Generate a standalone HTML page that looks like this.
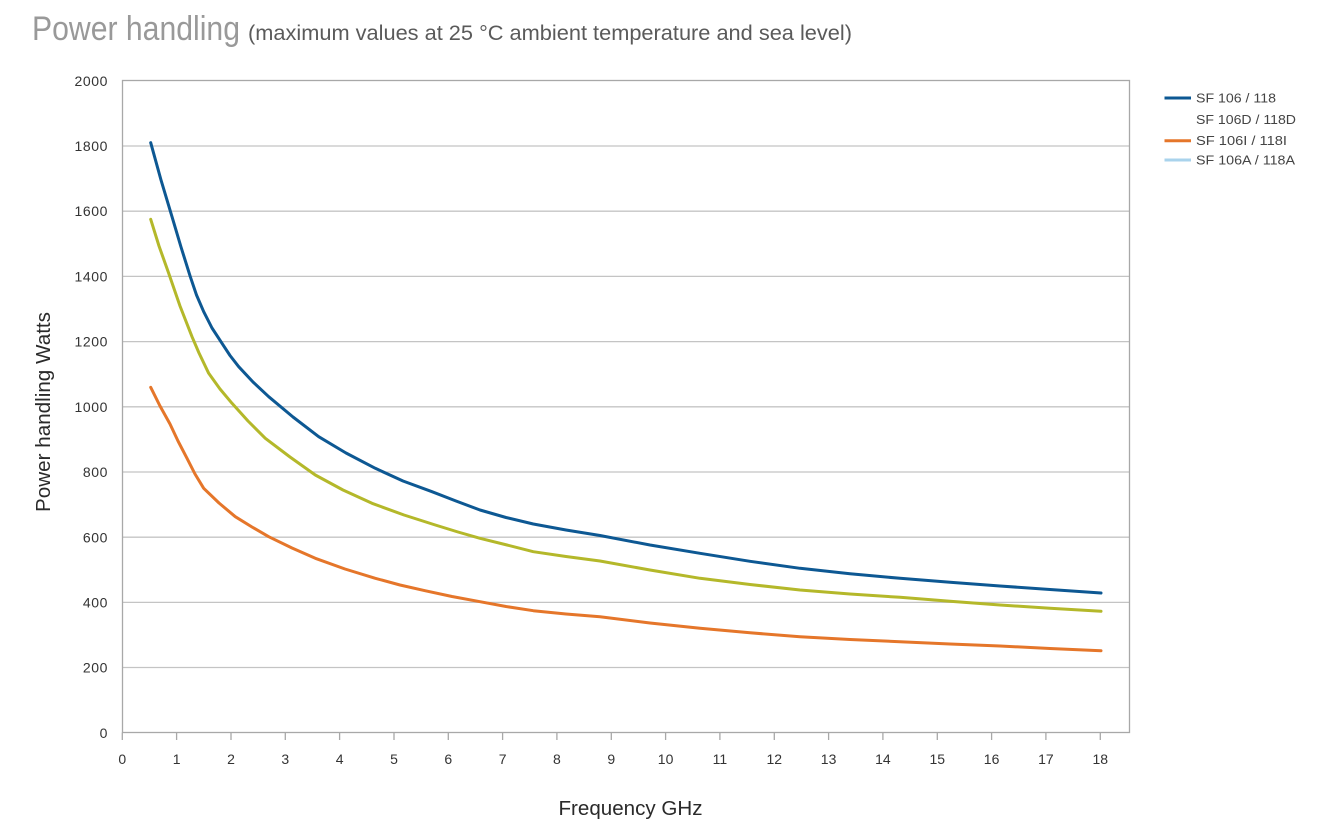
<!DOCTYPE html>
<html>
<head>
<meta charset="utf-8">
<style>
  html, body { margin: 0; padding: 0; background: #ffffff; }
  body { width: 1332px; height: 824px; overflow: hidden; }
  svg { display: block; }
  text { font-family: "Liberation Sans", "DejaVu Sans", sans-serif; }
</style>
</head>
<body>
<svg width="1332" height="824" viewBox="0 0 1332 824" xmlns="http://www.w3.org/2000/svg">
  <rect x="0" y="0" width="1332" height="824" fill="#ffffff"/>

  <!-- Title -->
  <text x="32" y="40" font-size="34" fill="#999999" textLength="208" lengthAdjust="spacingAndGlyphs">Power handling</text>
  <text x="248" y="40" font-size="21" fill="#5a5a5a" textLength="604" lengthAdjust="spacingAndGlyphs">(maximum values at 25 °C ambient temperature and sea level)</text>

  <!-- Gridlines -->
  <g stroke="#c4c4c4" stroke-width="1.3">
    <line x1="122.5" y1="146" x2="1129.5" y2="146"/>
    <line x1="122.5" y1="211.2" x2="1129.5" y2="211.2"/>
    <line x1="122.5" y1="276.4" x2="1129.5" y2="276.4"/>
    <line x1="122.5" y1="341.6" x2="1129.5" y2="341.6"/>
    <line x1="122.5" y1="406.8" x2="1129.5" y2="406.8"/>
    <line x1="122.5" y1="472" x2="1129.5" y2="472"/>
    <line x1="122.5" y1="537.2" x2="1129.5" y2="537.2"/>
    <line x1="122.5" y1="602.4" x2="1129.5" y2="602.4"/>
    <line x1="122.5" y1="667.5" x2="1129.5" y2="667.5"/>
  </g>
  <!-- Plot frame -->
  <rect x="122.5" y="80.5" width="1007" height="652" fill="none" stroke="#a8a8a8" stroke-width="1.3"/>

  <!-- X ticks -->
  <g stroke="#a8a8a8" stroke-width="1.3">
    <line x1="122.3" y1="732.5" x2="122.3" y2="740"/>
    <line x1="176.6" y1="732.5" x2="176.6" y2="740"/>
    <line x1="231" y1="732.5" x2="231" y2="740"/>
    <line x1="285.3" y1="732.5" x2="285.3" y2="740"/>
    <line x1="339.6" y1="732.5" x2="339.6" y2="740"/>
    <line x1="394" y1="732.5" x2="394" y2="740"/>
    <line x1="448.3" y1="732.5" x2="448.3" y2="740"/>
    <line x1="502.6" y1="732.5" x2="502.6" y2="740"/>
    <line x1="556.9" y1="732.5" x2="556.9" y2="740"/>
    <line x1="611.3" y1="732.5" x2="611.3" y2="740"/>
    <line x1="665.6" y1="732.5" x2="665.6" y2="740"/>
    <line x1="719.9" y1="732.5" x2="719.9" y2="740"/>
    <line x1="774.3" y1="732.5" x2="774.3" y2="740"/>
    <line x1="828.6" y1="732.5" x2="828.6" y2="740"/>
    <line x1="882.9" y1="732.5" x2="882.9" y2="740"/>
    <line x1="937.3" y1="732.5" x2="937.3" y2="740"/>
    <line x1="991.6" y1="732.5" x2="991.6" y2="740"/>
    <line x1="1045.9" y1="732.5" x2="1045.9" y2="740"/>
    <line x1="1100.3" y1="732.5" x2="1100.3" y2="740"/>
  </g>

  <!-- Y tick labels -->
  <g font-size="14" fill="#333333" text-anchor="end" letter-spacing="0.6">
    <text x="108" y="86">2000</text>
    <text x="108" y="151">1800</text>
    <text x="108" y="216">1600</text>
    <text x="108" y="281.5">1400</text>
    <text x="108" y="346.5">1200</text>
    <text x="108" y="412">1000</text>
    <text x="108" y="477">800</text>
    <text x="108" y="542.5">600</text>
    <text x="108" y="607.5">400</text>
    <text x="108" y="672.5">200</text>
    <text x="108" y="738">0</text>
  </g>

  <!-- X tick labels -->
  <g font-size="14" fill="#333333" text-anchor="middle">
    <text x="122.3" y="764">0</text>
    <text x="176.6" y="764">1</text>
    <text x="231" y="764">2</text>
    <text x="285.3" y="764">3</text>
    <text x="339.6" y="764">4</text>
    <text x="394" y="764">5</text>
    <text x="448.3" y="764">6</text>
    <text x="502.6" y="764">7</text>
    <text x="556.9" y="764">8</text>
    <text x="611.3" y="764">9</text>
    <text x="665.6" y="764">10</text>
    <text x="719.9" y="764">11</text>
    <text x="774.3" y="764">12</text>
    <text x="828.6" y="764">13</text>
    <text x="882.9" y="764">14</text>
    <text x="937.3" y="764">15</text>
    <text x="991.6" y="764">16</text>
    <text x="1045.9" y="764">17</text>
    <text x="1100.3" y="764">18</text>
  </g>

  <!-- Axis titles -->
  <text x="630.5" y="815" font-size="20" fill="#2a2a2a" text-anchor="middle" textLength="144" lengthAdjust="spacingAndGlyphs">Frequency GHz</text>
  <text transform="translate(50,412) rotate(-90)" font-size="20" fill="#2a2a2a" text-anchor="middle" textLength="200" lengthAdjust="spacingAndGlyphs">Power handling Watts</text>

  <!-- Series -->
  <g fill="none" stroke-width="3" stroke-linejoin="round" stroke-linecap="round">
    <!-- Yellow (SF 106D / 118D) -->
    <polyline stroke="#b4b82a" points="150.7,219.3 159,246 168.7,273.3 180,306 192,336.7 199,353 208.7,373.3 220,389 232,403.3 248,421 265.3,438.3 290,457 315.3,475 343,490 372,503.3 404,515 435.3,525 458,532 480,538.3 507,545 533.3,551.7 566,556.5 600,561 650,570 700,578.3 750,584.5 800,590 850,594 900,597.3 950,601.3 1000,605 1050,608.3 1101,611.3"/>
    <!-- Orange (SF 106I / 118I) -->
    <polyline stroke="#e5762a" points="150.7,387.3 160,406 170,424 178,441 187,458.3 195,474 203.7,488.3 219,503 235.3,516.7 252,527 268.7,536.7 292,548 315.3,558.3 345,569 375.3,578.3 400,585 425,590.7 452,596.5 480,601.7 506,606.5 533.3,610.7 566,614 600,616.7 650,623 700,628.3 750,632.8 800,636.7 850,639.5 900,641.7 950,644 1000,646 1050,648.5 1101,650.7"/>
    <!-- Blue (SF 106 / 118) -->
    <polyline stroke="#0d5893" points="150.7,142.7 161,180 172,216.7 181,247 190.3,276.7 196.5,295 203.7,311.7 212,328 222,343.3 230,355.5 238.7,366.7 253,382 268.7,396.7 293,417 318.7,436.7 346,453 375.3,468.3 403,481 432,491.7 456,501 480,510 506,517.5 533.3,524 566,530 600,535.5 650,545 700,553.3 750,561.3 800,568.3 850,573.8 900,578.3 950,582.3 1000,586 1050,589.5 1101,593"/>
  </g>

  <!-- Legend -->
  <g stroke-width="3">
    <line x1="1164.5" y1="98" x2="1191" y2="98" stroke="#0d5893"/>
    <line x1="1164.5" y1="140.7" x2="1191" y2="140.7" stroke="#e5762a"/>
    <line x1="1164.5" y1="160" x2="1191" y2="160" stroke="#a9d3ec"/>
  </g>
  <g font-size="13" fill="#444444">
    <text x="1196" y="102.5" textLength="80" lengthAdjust="spacingAndGlyphs">SF 106 / 118</text>
    <text x="1196" y="124" textLength="100" lengthAdjust="spacingAndGlyphs">SF 106D / 118D</text>
    <text x="1196" y="145" textLength="91" lengthAdjust="spacingAndGlyphs">SF 106I / 118I</text>
    <text x="1196" y="164.5" textLength="99" lengthAdjust="spacingAndGlyphs">SF 106A / 118A</text>
  </g>
</svg>
</body>
</html>
